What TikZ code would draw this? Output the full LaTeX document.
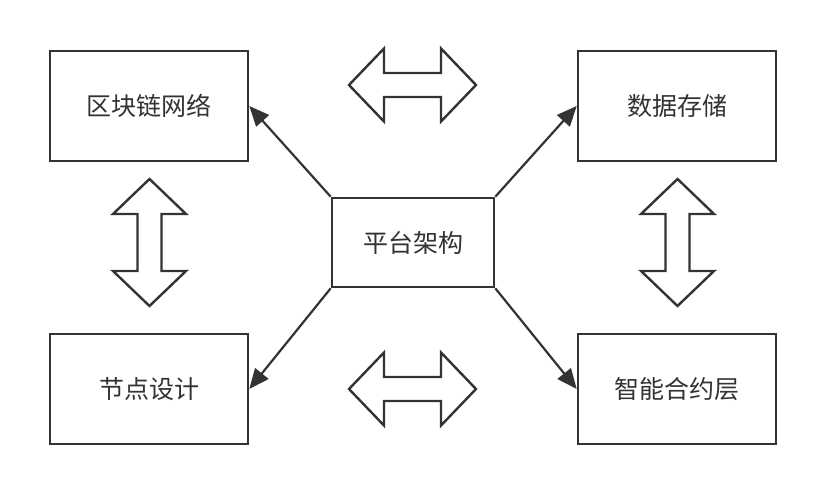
\documentclass[tikz,border=0pt]{standalone}
\usepackage{fontspec}
\newfontfamily\cjk{Noto Sans CJK SC}
\usepackage{tikz}
\usetikzlibrary{positioning, arrows.meta}
\usepackage{xcolor}
\definecolor{inkgray}{HTML}{333333}

\begin{document}
\begin{tikzpicture}[x=1pt, y=1pt,
    box/.style={draw=inkgray, line width=2.6pt, fill=white, minimum width=198pt,
        minimum height=110pt, font=\cjk\fontsize{25}{30}\selectfont, text=inkgray},
    hub/.style={box, minimum width=162pt, minimum height=89pt},
    link/.style={draw=inkgray, line width=2.2pt, -{Triangle[length=20pt, width=17pt]}},
    dblarrow/.pic={
        % hollow double arrow, 127 long, shaft 24 wide, heads 73 wide
        \draw[inkgray, line width=2.4pt, line join=miter, fill=white]
            (-63.5,0) -- (-28.5,36.5) -- (-28.5,12) -- (28.5,12) -- (28.5,36.5)
            -- (63.5,0) -- (28.5,-36.5) -- (28.5,-12) -- (-28.5,-12)
            -- (-28.5,-36.5) -- cycle;
    }]
    \useasboundingbox (0,0) rectangle (827,496);

    % centre and the four blocks
    \node[hub] (platform) at (413,253.5) {平台架构};
    \node[box] (chain)    at (149,390)   {区块链网络};
    \node[box] (storage)  at (677,390)   {数据存储};
    \node[box] (design)   at (149,107)   {节点设计};
    \node[box] (contract) at (677,107)   {智能合约层};

    % links from the centre
    \draw[link] (platform.north west) -- (chain.east);
    \draw[link] (platform.north east) -- (storage.west);
    \draw[link] (platform.south west) -- (design.east);
    \draw[link] (platform.south east) -- (contract.west);

    % two-way arrows between neighbours
    \pic at (412.5,411) {dblarrow};
    \pic at (412.5,107) {dblarrow};
    \pic[rotate=90] at (149.5,253.5) {dblarrow};
    \pic[rotate=90] at (677.5,253.5) {dblarrow};
\end{tikzpicture}
\end{document}
